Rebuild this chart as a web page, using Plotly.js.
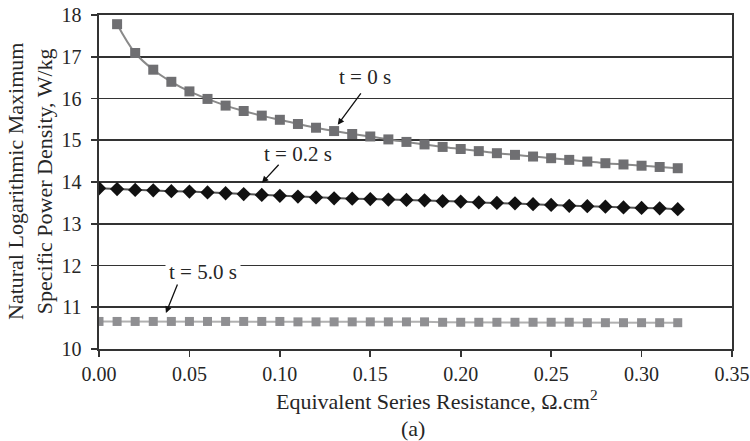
<!DOCTYPE html>
<html>
<head>
<meta charset="utf-8">
<script src="https://cdn.plot.ly/plotly-3.0.1.min.js"></script>
<style>
  html, body { margin: 0; padding: 0; background: #fff; }
  #chart { width: 750px; height: 441px; }
</style>
</head>
<body>
<div id="chart"></div>
<script>
// Equivalent series resistance (ohm.cm^2)
const resT0 = [0.01, 0.02, 0.03, 0.04, 0.05, 0.06, 0.07, 0.08, 0.09, 0.10,
               0.11, 0.12, 0.13, 0.14, 0.15, 0.16, 0.17, 0.18, 0.19, 0.20,
               0.21, 0.22, 0.23, 0.24, 0.25, 0.26, 0.27, 0.28, 0.29, 0.30,
               0.31, 0.32];
const resAll = [0.00, 0.01, 0.02, 0.03, 0.04, 0.05, 0.06, 0.07, 0.08, 0.09, 0.10,
                0.11, 0.12, 0.13, 0.14, 0.15, 0.16, 0.17, 0.18, 0.19, 0.20,
                0.21, 0.22, 0.23, 0.24, 0.25, 0.26, 0.27, 0.28, 0.29, 0.30,
                0.31, 0.32];

// ln of maximum specific power density (W/kg)
const lnPowerT0 = [17.78, 17.09, 16.69, 16.40, 16.17, 15.99, 15.83, 15.70, 15.59, 15.49,
                   15.39, 15.30, 15.22, 15.15, 15.09, 15.02, 14.96, 14.90, 14.84, 14.79,
                   14.74, 14.69, 14.65, 14.61, 14.57, 14.53, 14.49, 14.45, 14.42, 14.39,
                   14.36, 14.33];
const lnPowerT02 = [13.85, 13.83, 13.81, 13.80, 13.78, 13.77, 13.75, 13.73, 13.71, 13.69,
                    13.67, 13.65, 13.63, 13.61, 13.60, 13.59, 13.58, 13.57, 13.56, 13.54,
                    13.53, 13.51, 13.50, 13.49, 13.47, 13.45, 13.43, 13.42, 13.41, 13.39,
                    13.38, 13.37, 13.35];
const lnPowerT5 = [10.66, 10.66, 10.66, 10.66, 10.66, 10.66, 10.66, 10.66, 10.66, 10.66,
                   10.66, 10.65, 10.65, 10.65, 10.65, 10.65, 10.65, 10.65, 10.65, 10.64,
                   10.64, 10.64, 10.64, 10.64, 10.64, 10.64, 10.64, 10.63, 10.63, 10.63,
                   10.63, 10.63, 10.63];

const xTicks = [0, 0.05, 0.10, 0.15, 0.20, 0.25, 0.30, 0.35];
const xTickText = ['0.00', '0.05', '0.10', '0.15', '0.20', '0.25', '0.30', '0.35'];
const yTicks = [10, 11, 12, 13, 14, 15, 16, 17, 18];

const serif = 'Liberation Serif, DejaVu Serif, serif';
const ink = '#262626';

const traces = [
  {
    x: resT0, y: lnPowerT0, name: 't = 0 s', mode: 'lines+markers',
    line: { color: '#8a8a8a', width: 2, shape: 'spline' },
    marker: { symbol: 'square', size: 10, color: '#6f6f72' }
  },
  {
    x: resAll, y: lnPowerT02, name: 't = 0.2 s', mode: 'lines+markers',
    line: { color: '#555', width: 2 },
    marker: { symbol: 'diamond', size: 11, color: '#111' }
  },
  {
    x: resAll, y: lnPowerT5, name: 't = 5.0 s', mode: 'lines+markers',
    line: { color: '#b0b0b0', width: 2 },
    marker: { symbol: 'square', size: 9, color: '#8f8f92' }
  }
];

const arrowStyle = {
  showarrow: true, arrowhead: 2, arrowsize: 1, arrowwidth: 1.3,
  arrowcolor: '#111', axref: 'x', ayref: 'y', text: ''
};
const labelFont = { family: serif, size: 21, color: ink };
const titleFont = { family: serif, size: 22, color: ink };

const layout = {
  width: 750, height: 441,
  margin: { l: 99, r: 18, t: 15, b: 92 },
  paper_bgcolor: '#fff', plot_bgcolor: '#fff',
  showlegend: false,
  font: { family: serif, size: 20, color: ink },
  xaxis: {
    range: [0, 0.35], tickvals: xTicks, ticktext: xTickText,
    showgrid: false, zeroline: false,
    showline: true, linecolor: '#333', linewidth: 1.6, mirror: true,
    ticks: 'outside', ticklen: 6, tickwidth: 1.6, tickcolor: '#333',
    tickfont: { family: serif, size: 20, color: ink }
  },
  yaxis: {
    range: [10, 18], tickvals: yTicks,
    showgrid: true, gridcolor: '#333', gridwidth: 1.6, zeroline: false,
    showline: true, linecolor: '#333', linewidth: 1.6, mirror: true,
    ticks: 'outside', ticklen: 6, tickwidth: 1.6, tickcolor: '#333',
    ticklabelstandoff: 6,
    tickfont: { family: serif, size: 20, color: ink }
  },
  annotations: [
    { text: 't = 0 s', x: 0.147, y: 16.51, xref: 'x', yref: 'y', showarrow: false, font: labelFont },
    Object.assign({ x: 0.132, y: 15.37, ax: 0.1454, ay: 16.16 }, arrowStyle),
    { text: 't = 0.2 s', x: 0.110, y: 14.67, xref: 'x', yref: 'y', showarrow: false, font: labelFont },
    Object.assign({ x: 0.0901, y: 13.98, ax: 0.1001, ay: 14.45 }, arrowStyle),
    { text: 't = 5.0 s', x: 0.0575, y: 11.84, xref: 'x', yref: 'y', showarrow: false,
      bgcolor: '#fff', borderpad: 3, font: labelFont },
    Object.assign({ x: 0.037, y: 10.86, ax: 0.0437, ay: 11.58 }, arrowStyle),
    { text: 'Natural Logarithmic Maximum<br>Specific Power Density, W/kg',
      xref: 'paper', yref: 'paper', x: -0.109, y: 0.5, xanchor: 'center', yanchor: 'middle',
      textangle: -90, showarrow: false, font: titleFont },
    { text: 'Equivalent Series Resistance, Ω.cm<sup>2</sup>',
      xref: 'paper', yref: 'paper', x: 0.534, y: -0.153, xanchor: 'center', yanchor: 'middle',
      showarrow: false, font: titleFont },
    { text: '(a)', xref: 'paper', yref: 'paper', x: 0.496, y: -0.237,
      xanchor: 'center', yanchor: 'middle', showarrow: false, font: titleFont }
  ]
};

Plotly.newPlot('chart', traces, layout, { staticPlot: true, displayModeBar: false });
</script>
</body>
</html>
